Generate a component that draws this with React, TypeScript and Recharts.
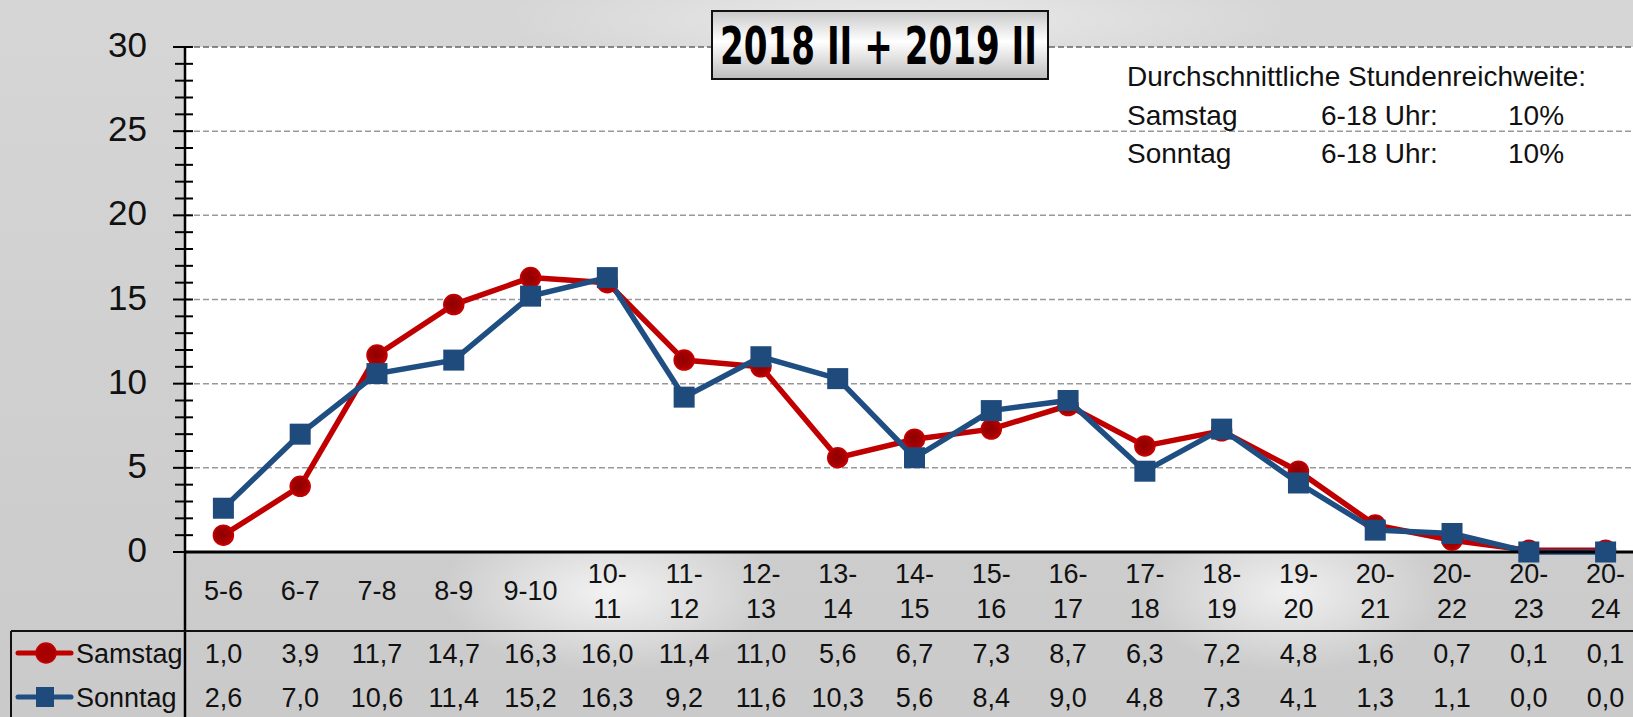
import { LineChart, Line, XAxis, YAxis, ReferenceLine, CartesianGrid } from "recharts";

const categories = [
  "5-6", "6-7", "7-8", "8-9", "9-10", "10-11", "11-12", "12-13", "13-14", "14-15",
  "15-16", "16-17", "17-18", "18-19", "19-20", "20-21", "20-22", "20-23", "20-24",
];
const samstag = [1.0, 3.9, 11.7, 14.7, 16.3, 16.0, 11.4, 11.0, 5.6, 6.7, 7.3, 8.7, 6.3, 7.2, 4.8, 1.6, 0.7, 0.1, 0.1];
const sonntag = [2.6, 7.0, 10.6, 11.4, 15.2, 16.3, 9.2, 11.6, 10.3, 5.6, 8.4, 9.0, 4.8, 7.3, 4.1, 1.3, 1.1, 0.0, 0.0];
const yTicks = [
  0, 1, 2, 3, 4, 5, 6, 7, 8, 9, 10, 11, 12, 13, 14, 15,
  16, 17, 18, 19, 20, 21, 22, 23, 24, 25, 26, 27, 28, 29, 30,
];
const gridValues = [5, 10, 15, 20, 25, 30];
const title = "2018 II + 2019 II";
const summaryHead = "Durchschnittliche Stundenreichweite:";
const summaryRows = [
  ["Samstag", "6-18 Uhr:", "10%"],
  ["Sonntag", "6-18 Uhr:", "10%"],
];

const data = categories.map((c, i) => ({ cat: c, samstag: samstag[i], sonntag: sonntag[i] }));

const RED = "#c00000";
const BLUE = "#1f4e82";
const FONT = "'Liberation Sans', Arial, sans-serif";

const fmt = (v: number) => v.toFixed(1).replace(".", ",");

function YTick(props: any) {
  const { x, y, payload } = props;
  const v = payload.value as number;
  const major = v % 5 === 0;
  return (
    <g>
      <line x1={x - (major ? 12 : 10)} x2={x + 8} y1={y} y2={y} stroke="#000" strokeWidth={2} />
      {major && (
        <text x={x - 38} y={y + 10} textAnchor="end" fontSize={35} fontFamily={FONT} fill="#111">
          {v}
        </text>
      )}
    </g>
  );
}

function XTick(props: any) {
  const { x, y, payload } = props;
  const idx = props.index ?? payload.index ?? 0;
  const label = payload.value as string;
  const cut = label.indexOf("-") + 1;
  const lines = label.length > 4 ? [label.slice(0, cut), label.slice(cut)] : [label];
  const common = { textAnchor: "middle" as const, fontSize: 27, fontFamily: FONT, fill: "#111" };
  return (
    <g>
      {lines.length === 1 ? (
        <text x={x} y={y + 48} {...common}>{lines[0]}</text>
      ) : (
        <>
          <text x={x} y={y + 31} {...common}>{lines[0]}</text>
          <text x={x} y={y + 66} {...common}>{lines[1]}</text>
        </>
      )}
      <text x={x} y={y + 111} {...common}>{fmt(samstag[idx])}</text>
      <text x={x} y={y + 155} {...common}>{fmt(sonntag[idx])}</text>
    </g>
  );
}

function RedDot(props: any) {
  const { cx, cy, index } = props;
  return <circle key={`r${index}`} cx={cx} cy={cy} r={10} fill="url(#redDot)" stroke="#c40000" strokeWidth={1.5} />;
}

function BlueDot(props: any) {
  const { cx, cy, index } = props;
  return <rect key={`b${index}`} x={cx - 10.5} y={cy - 10.5} width={21} height={21} fill="#1f4a7c" />;
}

export default function App() {
  return (
    <div
      style={{
        position: "fixed",
        left: 0,
        top: 0,
        width: 1633,
        height: 717,
        overflow: "hidden",
        background:
          "radial-gradient(ellipse 170px 80px at 610px 592px, rgba(255,255,255,0.75), rgba(255,255,255,0)), " +
          "radial-gradient(ellipse 150px 80px at 1290px 592px, rgba(255,255,255,0.7), rgba(255,255,255,0)), " +
          "radial-gradient(ellipse 400px 60px at 900px 20px, rgba(255,255,255,0.5), rgba(255,255,255,0)), " +
          "linear-gradient(180deg, #d6d6d6 0%, #d0d0d0 50%, #cacaca 100%)",
      }}
    >
      <LineChart width={1660} height={717} data={data} margin={{ top: 47, right: 16, bottom: 0, left: 0 }}>
        <defs>
          <radialGradient id="redDot" cx="45%" cy="45%" r="60%">
            <stop offset="0%" stopColor="#8e0000" />
            <stop offset="70%" stopColor="#a80000" />
            <stop offset="100%" stopColor="#cc0000" />
          </radialGradient>
        </defs>
        <CartesianGrid horizontal={false} vertical={false} fill="#ffffff" />
        <XAxis
          dataKey="cat"
          interval={0}
          height={165}
          padding={{ left: 38.4, right: 38.4 }}
          tickSize={0}
          tickMargin={0}
          tickLine={false}
          axisLine={{ stroke: "#000", strokeWidth: 3 }}
          tick={<XTick />}
        />
        <YAxis
          width={185}
          domain={[0, 30]}
          ticks={yTicks}
          interval={0}
          tickSize={0}
          tickMargin={0}
          tickLine={false}
          axisLine={{ stroke: "#000", strokeWidth: 2.5 }}
          tick={<YTick />}
        />
        {gridValues.map((v) => (
          <ReferenceLine
            key={v}
            y={v}
            stroke={v === 30 ? "#666" : "#999"}
            strokeWidth={1.5}
            strokeDasharray="6 3"
          />
        ))}
        <Line
          type="linear"
          dataKey="samstag"
          stroke={RED}
          strokeWidth={5.5}
          dot={RedDot}
          activeDot={false}
          isAnimationActive={false}
        />
        <Line
          type="linear"
          dataKey="sonntag"
          stroke={BLUE}
          strokeWidth={5.5}
          dot={BlueDot}
          activeDot={false}
          isAnimationActive={false}
        />
      </LineChart>
      <svg
        width={1633}
        height={717}
        style={{ position: "absolute", left: 0, top: 0, pointerEvents: "none" }}
      >
        <defs>
          <linearGradient id="titleFill" x1="0" y1="0" x2="0" y2="1">
            <stop offset="0%" stopColor="#c8c8c8" />
            <stop offset="45%" stopColor="#ffffff" />
            <stop offset="100%" stopColor="#bdbdbd" />
          </linearGradient>
        </defs>
        {/* table frame */}
        <line x1={185} x2={185} y1={552} y2={717} stroke="#000" strokeWidth={2.5} />
        <line x1={11} x2={1633} y1={631} y2={631} stroke="#111" strokeWidth={2} />
        <line x1={11} x2={11} y1={631} y2={717} stroke="#111" strokeWidth={2} />
        {/* legend swatches */}
        <line x1={18} x2={71} y1={653} y2={653} stroke={RED} strokeWidth={5} strokeLinecap="round" />
        <circle cx={46} cy={653} r={10} fill="#a80000" stroke="#c40000" strokeWidth={1.5} />
        <text x={76} y={663} fontSize={27} fontFamily={FONT} fill="#111">Samstag</text>
        <line x1={18} x2={71} y1={697} y2={697} stroke={BLUE} strokeWidth={5} strokeLinecap="round" />
        <rect x={36} y={687} width={18} height={20} fill="#1f4a7c" />
        <text x={76} y={707} fontSize={27} fontFamily={FONT} fill="#111">Sonntag</text>
        {/* title */}
        <rect x={712} y={11} width={336} height={68} fill="url(#titleFill)" stroke="#111" strokeWidth={2} />
        <text
          x={720}
          y={64}
          fontSize={52}
          fontWeight={900}
          fontFamily="'DejaVu Sans Condensed', 'Liberation Sans Narrow', 'DejaVu Sans', sans-serif"
          textLength={317}
          lengthAdjust="spacingAndGlyphs"
          fill="#000"
        >
          {title}
        </text>
        {/* summary */}
        <text x={1127} y={86} fontSize={28} fontFamily={FONT} fill="#111">{summaryHead}</text>
        {summaryRows.map((r, i) => (
          <g key={r[0]}>
            <text x={1127} y={125 + i * 38} fontSize={28} fontFamily={FONT} fill="#111">{r[0]}</text>
            <text x={1321} y={125 + i * 38} fontSize={28} fontFamily={FONT} fill="#111">{r[1]}</text>
            <text x={1508} y={125 + i * 38} fontSize={28} fontFamily={FONT} fill="#111">{r[2]}</text>
          </g>
        ))}
      </svg>
    </div>
  );
}
